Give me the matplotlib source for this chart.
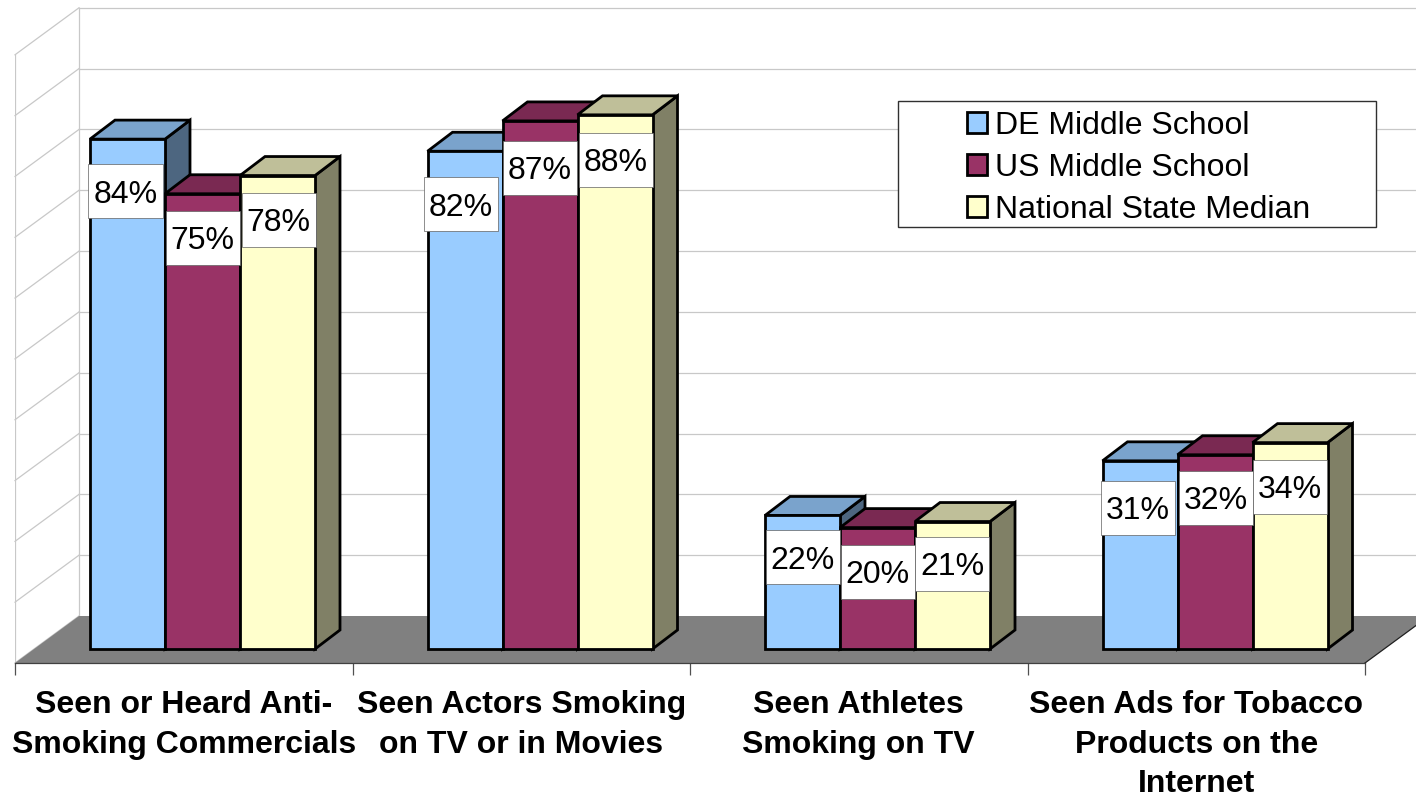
import matplotlib
matplotlib.use("Agg")
import matplotlib.pyplot as plt
from matplotlib.patches import Polygon, Rectangle, Patch

plt.rcParams['font.family'] = ['Liberation Sans', 'DejaVu Sans']

categories = ["Seen or Heard Anti-\nSmoking Commercials",
              "Seen Actors Smoking\non TV or in Movies",
              "Seen Athletes\nSmoking on TV",
              "Seen Ads for Tobacco\nProducts on the\nInternet"]
series_names = ["DE Middle School", "US Middle School", "National State Median"]
de_ms = [84, 82, 22, 31]
us_ms = [75, 87, 20, 32]
state_median = [78, 88, 21, 34]
series = [de_ms, us_ms, state_median]

front_colors = ["#99CCFF", "#993366", "#FFFFCC"]
top_colors = ["#7AA3CC", "#7A2952", "#BFBF99"]
side_colors = ["#4D6680", "#4D1A33", "#808066"]
GRID = "#C8C8C8"
FLOOR = "#808080"

W, H = 1416, 798
PX_CAT = 337.5
PX_PCT = 6.07
to_x = lambda px: px / PX_CAT
to_y = lambda px: px / PX_PCT

# Layout in pixel sizes, converted to data units
bar_w = to_x(75)
bar_start = to_x(75)
dx, dy = to_x(25), to_y(19)
wall_dx, wall_dy = to_x(64), to_y(47)
floor_gap = to_y(14)
wall_step = 1.002
y_low = -floor_gap
y_high = to_y(649)
x_high = to_x(W - 15)

# Label-box centre offsets (pixels), per series/category
label_dx = [[-2, -4, 0, -2], [0, 0, 0, 1], [1, 1, 0, 0]]
label_dy = [[52, 53, 42, 47], [44, 47, 44, 43], [44, 45, 42, 44]]

fig = plt.figure(figsize=(W / 100, H / 100), dpi=100, facecolor="white")
ax = fig.add_axes([15 / W, (H - 663) / H, (W - 15) / W, 663 / H])
ax.set_xlim(0, x_high)
ax.set_ylim(y_low, y_high)
ax.patch.set_visible(False)
for s in ("top", "left", "right"):
    ax.spines[s].set_visible(False)
ax.spines["bottom"].set_bounds(0, 4)
ax.spines["bottom"].set_color("#404040")
ax.spines["bottom"].set_linewidth(0.9)
ax.yaxis.set_visible(False)

ax.set_xticks(range(5))
ax.set_xticklabels([])
ax.set_xticks([i + 0.5 for i in range(4)], minor=True)
ax.set_xticklabels(categories, minor=True, fontsize=23, fontweight="bold", linespacing=1.42)
ax.tick_params(axis="x", which="major", length=8.6, width=0.9, color="#505050")
ax.tick_params(axis="x", which="minor", length=0, pad=19.5)

# Walls and gridlines
back_y0 = y_low + wall_dy
for pct in range(0, 101, 10):
    ax.plot([0, wall_dx], [y_low + pct * wall_step, back_y0 + pct * wall_step], color=GRID, lw=0.9,
            zorder=1, clip_on=False)
    if pct > 0:
        ax.plot([wall_dx, x_high], [back_y0 + pct * wall_step] * 2, color=GRID, lw=0.9, zorder=1)
ax.plot([0, 0], [y_low, y_low + 100 * wall_step], color=GRID, lw=0.9, zorder=1)
ax.plot([wall_dx, wall_dx], [back_y0, back_y0 + 100 * wall_step], color=GRID, lw=0.9, zorder=1)

# Floor
ax.add_patch(Polygon([(0, y_low), (wall_dx, back_y0), (4 + wall_dx, back_y0), (4, y_low)],
                     closed=True, fc=FLOOR, ec="none", zorder=2))
ax.plot([4, 4 + wall_dx], [y_low, back_y0], color="#202020", lw=0.9, zorder=2)

# Bars
z = 3
for c in range(len(categories)):
    for s, vals in enumerate(series):
        x0 = c + bar_start + s * bar_w
        x1 = x0 + bar_w
        v = vals[c]
        style = dict(closed=True, ec="black", lw=2.0, joinstyle="miter")
        ax.add_patch(Polygon([(x1, 0), (x1 + dx, dy), (x1 + dx, v + dy), (x1, v)],
                             fc=side_colors[s], zorder=z, **style))
        ax.add_patch(Polygon([(x0, v), (x0 + dx, v + dy), (x1 + dx, v + dy), (x1, v)],
                             fc=top_colors[s], zorder=z, **style))
        ax.add_patch(Polygon([(x0, 0), (x0, v), (x1, v), (x1, 0)],
                             fc=front_colors[s], zorder=z + 0.5, **style))
        z += 1

# Value labels
for c in range(len(categories)):
    for s, vals in enumerate(series):
        xc = c + bar_start + (s + 0.5) * bar_w + to_x(label_dx[s][c])
        yc = vals[c] - to_y(label_dy[s][c])
        ax.add_patch(Rectangle((xc - to_x(37), yc - to_y(27)), to_x(74), to_y(54),
                               fc="white", ec="#606060", lw=0.5, zorder=50))
        ax.text(xc, yc, f"{vals[c]}%", ha="center", va="center_baseline",
                fontsize=23, color="black", zorder=51)

# Legend
fig.add_artist(Rectangle((898 / W, 1 - 227 / H), 478 / W, 126 / H, transform=fig.transFigure,
                         fc="white", ec="#303030", lw=1.0, zorder=60))
handles = [Patch(fc=front_colors[i], ec="black", lw=2.0, label=series_names[i]) for i in range(3)]
leg = fig.legend(handles=handles, loc="upper left", bbox_to_anchor=(967 / W, 1 - 111 / H),
                 frameon=False, fontsize=23, borderpad=0, borderaxespad=0,
                 handlelength=0.64, handleheight=0.64, handletextpad=0.24, labelspacing=0.37)
leg.set_zorder(61)

fig.savefig("out.png", dpi=100)
